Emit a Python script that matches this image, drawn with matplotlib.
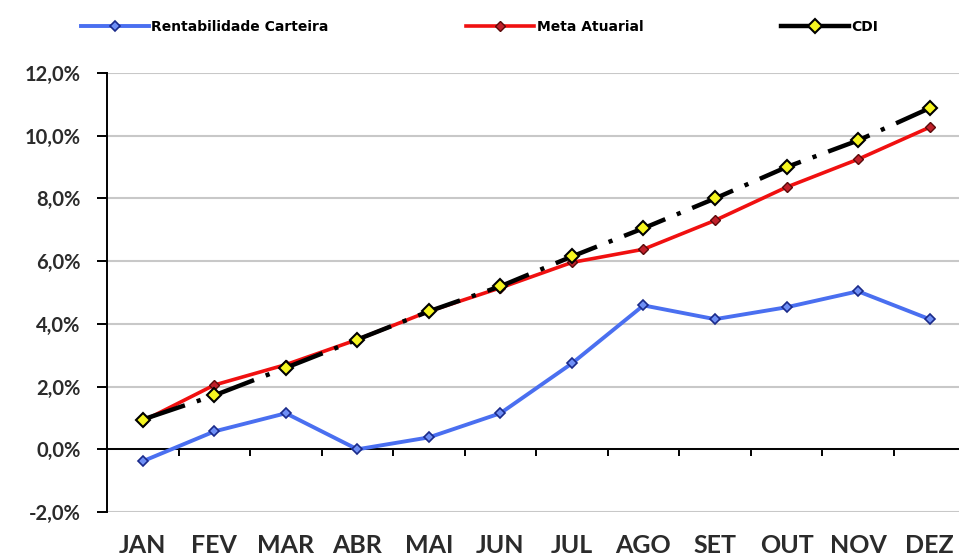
import numpy as np
import matplotlib
matplotlib.use("Agg")
import matplotlib.pyplot as plt
from matplotlib.ticker import FuncFormatter

# dados (% acumulado no ano)
meses = ["JAN", "FEV", "MAR", "ABR", "MAI", "JUN", "JUL", "AGO", "SET", "OUT", "NOV", "DEZ"]
rentabilidade = [-0.38, 0.57, 1.15, 0.0, 0.38, 1.15, 2.74, 4.59, 4.15, 4.53, 5.04, 4.15]
meta_atuarial = [0.90, 2.05, 2.70, 3.50, 4.40, 5.15, 5.96, 6.38, 7.30, 8.36, 9.25, 10.27]
cdi = [0.95, 1.72, 2.60, 3.50, 4.40, 5.20, 6.15, 7.05, 8.00, 9.00, 9.85, 10.88]

plt.rcParams['font.family'] = ['Lato', 'DejaVu Sans']
plt.rcParams['lines.scale_dashes'] = False
txt = '#2b2b2b'

fig = plt.figure(figsize=(9.59, 5.58), dpi=100)
ax = fig.add_axes([0.1116, 0.0824, 0.895, 0.7867])

x = np.arange(len(meses))
ax.plot(x, rentabilidade, color='#4a6ff0', lw=2.8, marker='D', ms=5,
        mfc='#6f8ff5', mec='#1a2a8a', mew=1.2, label='Rentabilidade Carteira', zorder=3)
ax.plot(x, meta_atuarial, color='#f01010', lw=2.6, marker='D', ms=5,
        mfc='#c0202a', mec='#5a0a0a', mew=1.0, label='Meta Atuarial', zorder=4)
ax.plot(x, cdi, color='black', lw=3.2, linestyle=(0, (32, 9, 3, 9)), marker='D', ms=7.5,
        mfc='#f5f520', mec='black', mew=1.5, label='CDI', zorder=5)

ax.set_xlim(-0.5, 11.5)
ax.set_ylim(-2, 12)
ax.set_yticks(np.arange(-2, 12.1, 2))
ax.yaxis.set_major_formatter(FuncFormatter(lambda v, p: f"{v:.1f}%".replace('.', ',')))
ax.yaxis.grid(True, color='#c8c8c8', lw=1.5)
ax.set_axisbelow(True)

for s in ['top', 'right']:
    ax.spines[s].set_visible(False)
ax.spines['left'].set_color('black')
ax.spines['left'].set_linewidth(1.4)
ax.spines['bottom'].set_position(('data', 0))
ax.spines['bottom'].set_linewidth(1.4)

# marcas entre categorias no eixo zero
ax.set_xticks(np.arange(0.5, 11, 1))
ax.set_xticklabels([])
ax.tick_params(axis='x', direction='out', length=5, width=1.4, color='black')
ax.tick_params(axis='y', direction='out', length=7, width=1.4, color='black',
               labelsize=14.5, labelcolor=txt, pad=12)
for lab in ax.get_yticklabels():
    lab.set_fontweight('bold')

sec = ax.secondary_xaxis(0.0)
sec.set_xticks(x)
sec.set_xticklabels(meses, fontsize=18, fontweight='bold', color=txt)
sec.tick_params(length=0, pad=16)
sec.spines['bottom'].set_visible(False)

leg = fig.legend(loc='center', bbox_to_anchor=(0.5, 0.952), ncol=3, frameon=False,
                 prop={'size': 10, 'weight': 'bold', 'family': 'DejaVu Sans'},
                 handlelength=4.9, handletextpad=0.15, columnspacing=9.9)
leg.legend_handles[2].set_linestyle('-')

fig.savefig('out.png', dpi=100)
